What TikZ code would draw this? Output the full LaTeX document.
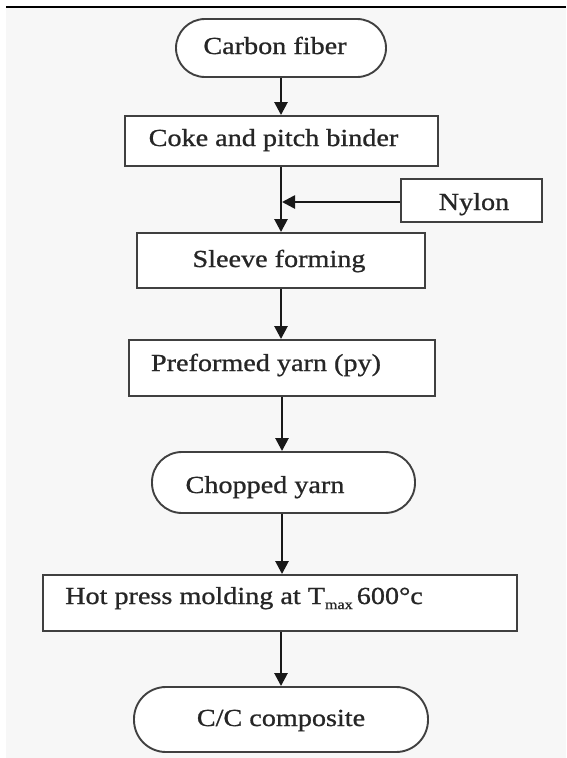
\documentclass[tikz,border=0pt]{standalone}
\usepackage{fontspec}
\setmainfont{Liberation Serif}[FakeStretch=1.15,FakeBold=0.9]
\usetikzlibrary{arrows.meta}
\begin{document}
\begin{tikzpicture}[x=1pt,y=-1pt,
  box/.style={draw=black!75, line width=1.9pt, fill=white, inner sep=0pt},
  term/.style={box, rounded corners=#1},
  txt/.style={anchor=base, inner sep=0pt, text=black!85, font=\fontsize{24.5}{28}\selectfont},
  flow/.style={line width=2.6pt, draw=black!90, -{Triangle[length=13pt,width=13pt]}},
  bg/.style={fill=black!3, draw=none},
  rule/.style={line width=2.4pt, draw=black}
]
\useasboundingbox (0,0) rectangle (566,758);
\fill[bg] (6,7) rectangle (566,758);
\coordinate (ruleL) at (6,7);
\coordinate (ruleR) at (566,7);
\draw[rule] (ruleL) -- (ruleR);

% shapes
\node[term=29pt, minimum width=210pt, minimum height=58pt] (carbon) at (281,48) {};
\node[box, minimum width=313pt, minimum height=50pt] (coke) at (281.5,141) {};
\node[box, minimum width=141pt, minimum height=43pt] (nylon) at (471.5,200.5) {};
\node[box, minimum width=288pt, minimum height=55pt] (sleeve) at (281,260.5) {};
\node[box, minimum width=306pt, minimum height=56pt] (pre) at (282,368) {};
\node[term=30pt, minimum width=263pt, minimum height=61pt] (chop) at (283.5,482.5) {};
\node[box, minimum width=474pt, minimum height=56pt] (hot) at (280,603) {};
\node[term=32pt, minimum width=294pt, minimum height=65pt] (cc) at (281,719.5) {};

% texts
\node[txt] (tcarbon) at (275,54) {Carbon fiber};
\node[txt] (tcoke) at (273.5,146) {Coke and pitch binder};
\node[txt] (tnylon) at (474,210) {Nylon};
\node[txt] (tsleeve) at (279,267) {Sleeve forming};
\node[txt] (tpre) at (266,371) {Preformed yarn (py)};
\node[txt] (tchop) at (265,493) {Chopped yarn};
\node[txt, anchor=base west] (thot) at (65,604) {Hot press molding at T\raisebox{-0.45ex}{\fontsize{14}{14}\selectfont max}\,600°c};
\node[txt] (tcc) at (281,726) {C/C composite};

% connectors
\draw[flow] (carbon.south) -- (carbon.south |- coke.north);
\draw[flow] (coke.south -| carbon.south) -- (sleeve.north);
\coordinate (join) at (282,202);
\draw[flow] (nylon.west |- join) -- (join);
\draw[flow] (sleeve.south) -- (sleeve.south |- pre.north);
\draw[flow] (pre.south) -- (pre.south |- chop.north);
\draw[flow] (chop.south -| pre.south) -- (pre.south |- hot.north);
\draw[flow] (hot.south -| cc.north) -- (cc.north);
\end{tikzpicture}
\end{document}
